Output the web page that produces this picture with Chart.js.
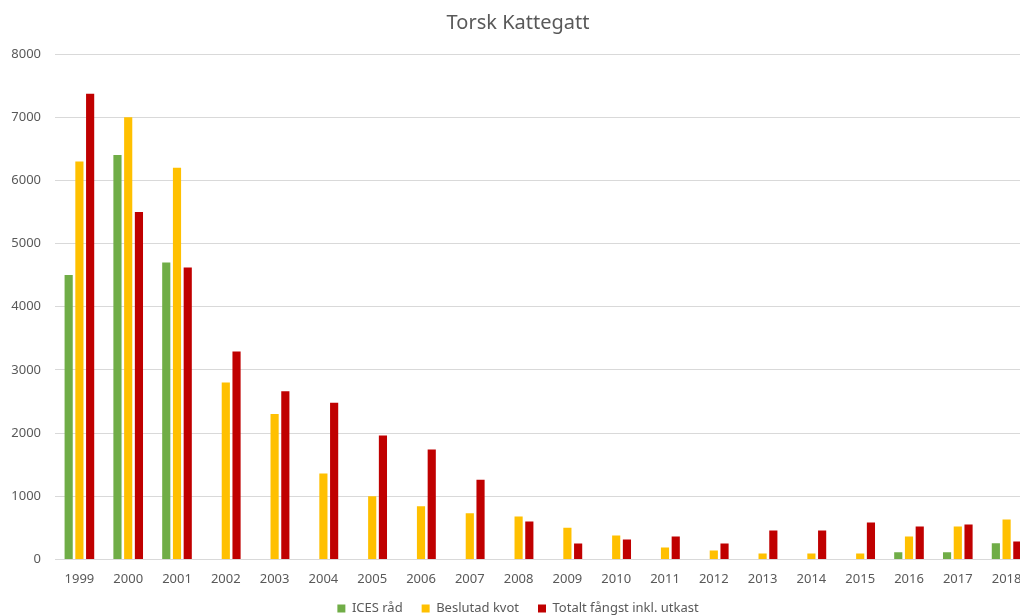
<!DOCTYPE html>
<html>
<head>
<meta charset="utf-8">
<script src="https://cdn.jsdelivr.net/npm/chart.js@4"></script>
<style>
  html, body { margin: 0; padding: 0; background: #fff; overflow: hidden; }
  #wrap { width: 1050px; height: 615px; }
</style>
</head>
<body>
<div id="wrap"><canvas id="chart"></canvas></div>
<script>
// år och serier
let years = ['1999','2000','2001','2002','2003','2004','2005','2006','2007','2008',
             '2009','2010','2011','2012','2013','2014','2015','2016','2017','2018'];
let icesRad = [4500, 6400, 4700, 0, 0, 0, 0, 0, 0, 0,
               0, 0, 0, 0, 0, 0, 0, 115, 115, 255];
let beslutadKvot = [6300, 7000, 6200, 2800, 2300, 1360, 1000, 840, 730, 680,
                    500, 380, 190, 142, 95, 95, 95, 364, 522, 632];
let totaltFangst = [7370, 5500, 4620, 3290, 2660, 2480, 1960, 1740, 1260, 600,
                    253, 316, 364, 253, 458, 458, 585, 522, 553, 285];
let yTicks = [0, 1000, 2000, 3000, 4000, 5000, 6000, 7000, 8000];

let textColor = '#595959';
let fontFamily = "'Noto Sans', 'Open Sans', sans-serif";

// legend lite närmare botten
let legendShift = {
    id: 'legendShift',
    beforeInit: (chart) => {
        let origFit = chart.legend.fit;
        chart.legend.fit = function () {
            origFit.bind(chart.legend)();
            this.height -= 10;
        };
    }
};

let makeChart = () => {
    new Chart(document.getElementById('chart'), {
        type: 'bar',
        data: {
            labels: years,
            datasets: [
                { label: 'ICES råd', data: icesRad, backgroundColor: '#70AD47' },
                { label: 'Beslutad kvot', data: beslutadKvot, backgroundColor: '#FFC000' },
                { label: 'Totalt fångst inkl. utkast', data: totaltFangst, backgroundColor: '#C00000' }
            ]
        },
        plugins: [legendShift],
        options: {
            responsive: true,
            maintainAspectRatio: false,
            animation: false,
            datasets: { bar: { categoryPercentage: 0.66, barPercentage: 0.76 } },
            layout: { padding: { left: 5, right: 19, top: 10, bottom: 0 } },
            plugins: {
                title: {
                    display: true,
                    text: 'Torsk Kattegatt',
                    color: textColor,
                    font: { family: fontFamily, size: 20, weight: 'normal' },
                    padding: { top: 1, bottom: 19 }
                },
                legend: {
                    position: 'bottom',
                    labels: {
                        color: textColor,
                        font: { family: fontFamily, size: 13 },
                        boxWidth: 8,
                        boxHeight: 8,
                        padding: 19
                    }
                },
                tooltip: { enabled: false }
            },
            scales: {
                x: {
                    grid: { display: false, drawTicks: false },
                    border: { display: false },
                    afterFit: (scale) => { scale.height -= 16; },
                    ticks: {
                        color: textColor,
                        font: { family: fontFamily, size: 13 },
                        padding: 12,
                        maxRotation: 0
                    }
                },
                y: {
                    min: 0,
                    max: 8000,
                    afterBuildTicks: (axis) => { axis.ticks = yTicks.map(v => ({ value: v })); },
                    afterFit: (scale) => { scale.width = 50; },
                    grid: { color: '#D9D9D9', lineWidth: 1, drawTicks: false },
                    border: { display: false },
                    ticks: {
                        color: textColor,
                        font: { family: fontFamily, size: 13 },
                        padding: 14,
                        callback: (v) => String(v)
                    }
                }
            }
        }
    });
}

makeChart();
</script>
</body>
</html>
